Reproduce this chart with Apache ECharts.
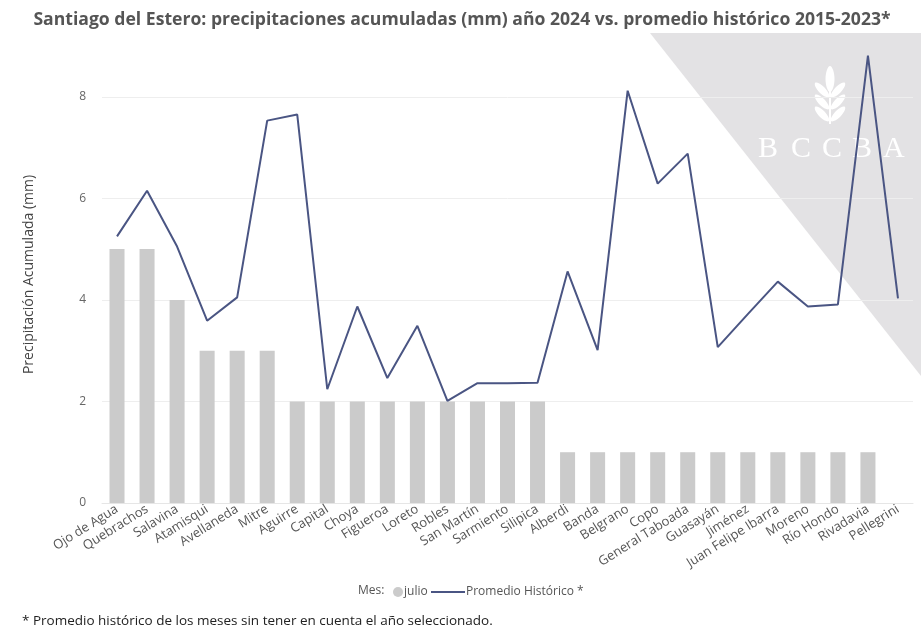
<!DOCTYPE html>
<html>
<head>
<meta charset="utf-8">
<script src="https://cdn.jsdelivr.net/npm/echarts@6/dist/echarts.min.js"></script>
<style>
html,body{margin:0;padding:0;background:#fff;}
#chart{width:924px;height:640px;}
</style>
</head>
<body>
<div id="chart"></div>
<script>
const categories = ['Ojo de Agua','Quebrachos','Salavina','Atamisqui','Avellaneda','Mitre','Aguirre','Capital','Choya','Figueroa','Loreto','Robles','San Martín','Sarmiento','Silipica','Alberdi','Banda','Belgrano','Copo','General Taboada','Guasayán','Jiménez','Juan Felipe Ibarra','Moreno','Río Hondo','Rivadavia','Pellegrini'];
const julio = [5,5,4,3,3,3,2,2,2,2,2,2,2,2,2,1,1,1,1,1,1,1,1,1,1,1,0];
const promedio = [5.25,6.15,5.05,3.59,4.05,7.53,7.65,2.24,3.87,2.46,3.49,2.01,2.36,2.36,2.37,4.56,3.01,8.12,6.29,6.88,3.07,3.72,4.36,3.87,3.91,8.81,4.03];
const yTicks = [0,2,4,6,8];

const FONT = '"Open Sans", "Noto Sans", sans-serif';
const chart = echarts.init(document.getElementById('chart'), null, {renderer:'canvas'});

function leaf(points){
  return {type:'polygon', z:-9, silent:true, shape:{points:points, smooth:0.5}, style:{fill:'#ffffff'}};
}
const logo = [
  leaf([[830,66],[834.5,79],[830,92],[825.5,79]]),
  leaf([[829,97],[820,93],[815,83],[824,87]]),
  leaf([[831,97],[840,93],[845,83],[836,87]]),
  leaf([[829,109],[820,105],[815,95],[824,99]]),
  leaf([[831,109],[840,105],[845,95],[836,99]]),
  leaf([[829,121],[820,117],[815,107],[824,111]]),
  leaf([[831,121],[840,117],[845,107],[836,111]]),
  {type:'rect', z:-9, silent:true, shape:{x:829,y:90,width:2,height:34}, style:{fill:'#ffffff'}}
];
const serif = '30px "Liberation Serif", "DejaVu Serif", serif';
const letters = [['B',758],['C',791],['C',822],['B',852],['A',883]].map(function(p){
  return {type:'text', z:-9, silent:true, left:p[1], top:134, style:{text:p[0], fill:'#ffffff', font:serif}};
});

chart.setOption({
  backgroundColor:'#ffffff',
  animation:false,
  title:{
    text:'Santiago del Estero: precipitaciones acumuladas (mm) año 2024 vs. promedio histórico 2015-2023*',
    left:'center', top:6,
    textStyle:{fontFamily:FONT, fontSize:17.6, fontWeight:'bold', color:'#555555'}
  },
  graphic:[
    {type:'polygon', z:-10, silent:true, shape:{points:[[650,33],[921,33],[921,376]]}, style:{fill:'#e3e2e4'}}
  ].concat(logo).concat(letters).concat([
    {type:'text', left:358, top:585, style:{text:'Mes:', fill:'#555555', font:'12px "Open Sans", "Noto Sans", sans-serif'}},
    {type:'text', left:22, top:614, style:{text:'* Promedio histórico de los meses sin tener en cuenta el año seleccionado.', fill:'#222222', font:'13.5px "Open Sans", "Noto Sans", sans-serif'}}
  ]),
  legend:[
    {left:388, top:581, itemWidth:10, itemHeight:10, icon:'circle', data:['julio'],
     textStyle:{fontFamily:FONT, fontSize:12, color:'#555555', padding:[0,0,0,-4]}},
    {left:426, top:581, itemWidth:34, itemHeight:10,
     data:[{name:'Promedio Histórico *', icon:'path://M0,4L34,4L34,6L0,6Z'}],
     textStyle:{fontFamily:FONT, fontSize:12, color:'#555555', padding:[0,0,0,-4]}}
  ],
  grid:{left:102, right:11, top:46, bottom:137, containLabel:false},
  xAxis:{
    type:'category', data:categories,
    axisLine:{show:true, lineStyle:{color:'#e6e6e6', width:1}},
    axisTick:{show:false},
    axisLabel:{rotate:32, interval:0, margin:5, fontFamily:FONT, fontSize:13, color:'#555555'}
  },
  yAxis:{
    type:'value', min:0, max:9, interval:2,
    name:'Precipitación Acumulada (mm)', nameLocation:'middle', nameGap:66,
    nameTextStyle:{fontFamily:FONT, fontSize:14, color:'#444444'},
    axisLine:{show:false}, axisTick:{show:false},
    axisLabel:{showMaxLabel:false, margin:16, fontFamily:FONT, fontSize:12, color:'#666666',
      formatter:function(v){return yTicks.indexOf(v) >= 0 ? String(v) : '';}},
    splitLine:{show:true, lineStyle:{color:['#eeeeee','#eeeeee','#eeeeee','#eeeeee','#eeeeee','rgba(0,0,0,0)'], width:1}}
  },
  series:[
    {name:'julio', type:'bar', data:julio, barWidth:'50%', itemStyle:{color:'#cbcbcb'}, z:2},
    {name:'Promedio Histórico *', type:'line', data:promedio, symbol:'none', showSymbol:false,
     lineStyle:{color:'#4a5583', width:2}, itemStyle:{color:'#4a5583'}, z:3}
  ]
});
</script>
</body>
</html>
